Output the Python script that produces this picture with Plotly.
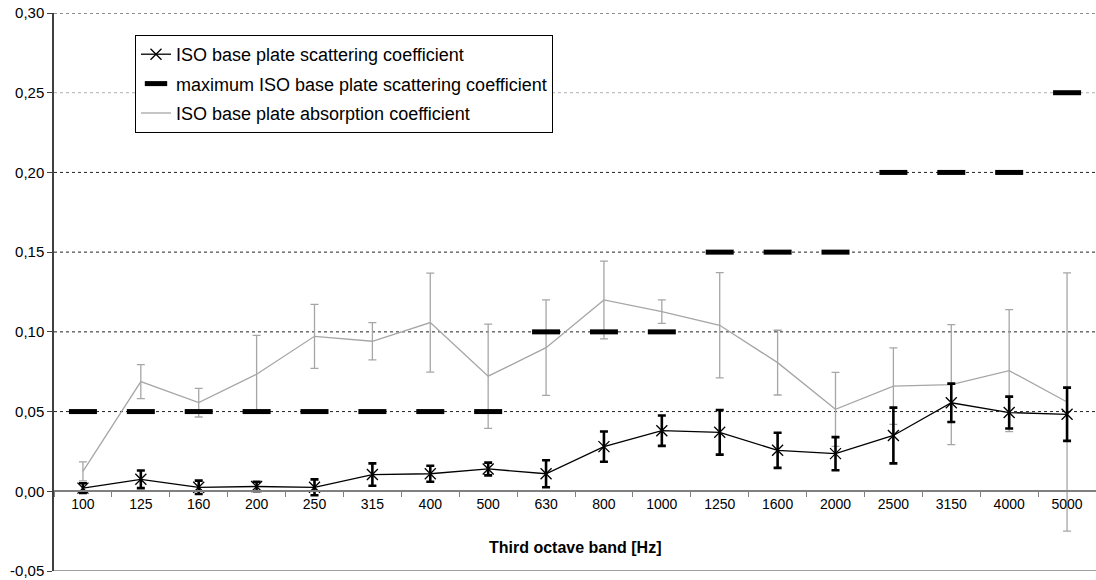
import plotly.graph_objects as go

bands = ["100", "125", "160", "200", "250", "315", "400", "500", "630", "800",
         "1000", "1250", "1600", "2000", "2500", "3150", "4000", "5000"]

scattering = [0.002, 0.0075, 0.0025, 0.003, 0.0025, 0.0105, 0.011, 0.014, 0.011, 0.028,
              0.038, 0.037, 0.0257, 0.0236, 0.035, 0.0555, 0.0494, 0.0483]
scattering_err = [0.003, 0.0055, 0.0042, 0.003, 0.005, 0.007, 0.005, 0.004, 0.0085, 0.0095,
                  0.0095, 0.014, 0.011, 0.0104, 0.0175, 0.012, 0.010, 0.0167]

max_scattering = [0.05, 0.05, 0.05, 0.05, 0.05, 0.05, 0.05, 0.05, 0.10, 0.10,
                  0.10, 0.15, 0.15, 0.15, 0.20, 0.20, 0.20, 0.25]

absorption = [0.0125, 0.0688, 0.0556, 0.0734, 0.0972, 0.0941, 0.1058, 0.0722, 0.0901, 0.1200,
              0.1127, 0.1041, 0.0807, 0.0514, 0.0660, 0.0669, 0.0757, 0.0560]
absorption_err = [0.006, 0.0107, 0.009, 0.0244, 0.0201, 0.0117, 0.031, 0.0327, 0.030, 0.0244,
                  0.0074, 0.033, 0.0203, 0.0232, 0.024, 0.0376, 0.0383, 0.081]

y_ticks = [-0.05, 0.0, 0.05, 0.10, 0.15, 0.20, 0.25, 0.30]
y_tick_text = ["-0,05", "0,00", "0,05", "0,10", "0,15", "0,20", "0,25", "0,30"]
grid_vals = [0.05, 0.10, 0.15, 0.20, 0.25, 0.30]
grid_colors = ["#222222", "#222222", "#222222", "#222222", "#b0b0b0", "#222222"]

y_min, y_max = -0.05, 0.30

fig = go.Figure()

fig.add_trace(go.Scatter(
    x=bands, y=absorption, name="ISO base plate absorption coefficient",
    mode="lines", line=dict(color="#a6a6a6", width=1.3),
    error_y=dict(type="data", array=absorption_err, color="#a6a6a6", thickness=1.3, width=4),
    legendrank=3, legendgroup="c"))

fig.add_trace(go.Scatter(
    x=bands, y=scattering, name="ISO base plate scattering coefficient",
    mode="lines+markers", line=dict(color="black", width=1.3),
    marker=dict(symbol="x-thin", size=11, color="black", line=dict(color="black", width=1.3)),
    error_y=dict(type="data", array=scattering_err, color="black", thickness=2.6, width=4),
    legendrank=1, legendgroup="a"))

fig.add_trace(go.Scatter(
    x=bands, y=max_scattering, name="maximum ISO base plate scattering coefficient",
    mode="markers",
    marker=dict(symbol="line-ew", size=20, color="black", line=dict(color="black", width=5)),
    legendrank=2, legendgroup="b"))

shapes = []
for v, c in zip(grid_vals, grid_colors):
    shapes.append(dict(type="line", xref="paper", x0=0, x1=1, yref="y", y0=v, y1=v,
                       line=dict(color=c, width=1, dash="3px,3px"), layer="below"))
shapes.append(dict(type="line", xref="paper", x0=0, x1=1, yref="y", y0=y_min, y1=y_min,
                   line=dict(color="#a0a0a0", width=2), layer="below"))

fig.update_layout(
    width=1096, height=580,
    margin=dict(l=54, r=0, t=13, b=9, autoexpand=False),
    paper_bgcolor="white", plot_bgcolor="white",
    font=dict(family="Liberation Sans, Arial, sans-serif", size=14, color="black"),
    shapes=shapes,
    showlegend=True,
    legend=dict(x=(135 - 54) / 1042, y=1 - (35 - 13) / 558, xanchor="left", yanchor="top",
                bordercolor="black", borderwidth=1, bgcolor="white",
                font=dict(size=18, family="Liberation Sans, Arial, sans-serif"),
                traceorder="grouped", tracegroupgap=3, itemwidth=30),
    xaxis=dict(type="category", categoryorder="array", categoryarray=bands,
               range=[-0.5, len(bands) - 0.5], automargin=False,
               anchor="free", position=(0 - y_min) / (y_max - y_min),
               showline=True, linecolor="#808080", linewidth=2,
               ticks="outside", tickson="boundaries", ticklen=5, tickcolor="#808080", tickwidth=1,
               tickfont=dict(size=14), showgrid=False, zeroline=False),
    yaxis=dict(range=[y_min, y_max], tickvals=y_ticks, ticktext=y_tick_text, automargin=False,
               showline=True, linecolor="#404040", linewidth=1.5,
               ticks="outside", ticklen=5, tickcolor="#404040",
               tickfont=dict(size=15), showgrid=False, zeroline=False),
    annotations=[dict(text="<b>Third octave band [Hz]</b>", xref="paper", yref="paper",
                      x=0.5, y=(571 - 547) / 558, xanchor="center", yanchor="middle",
                      showarrow=False, font=dict(size=16))],
)

fig.write_html("out.html", config={"displayModeBar": False},
               post_script="document.body.style.margin='0';document.body.style.overflow='hidden';")
